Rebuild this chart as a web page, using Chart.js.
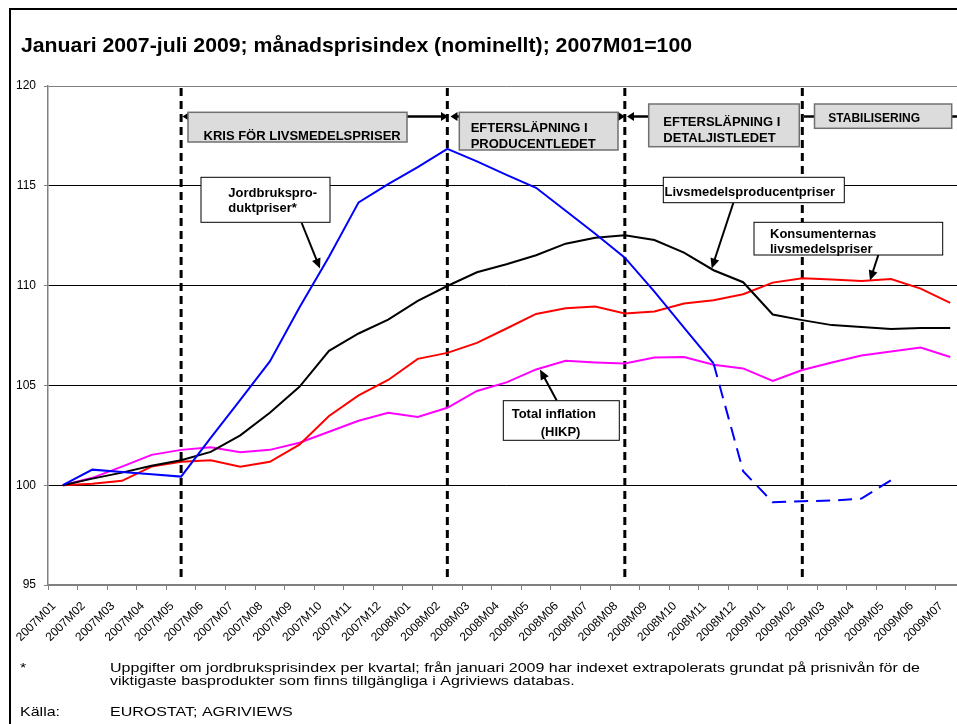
<!DOCTYPE html>
<html>
<head>
<meta charset="utf-8">
<script src="https://cdn.jsdelivr.net/npm/chart.js@4.4.1/dist/chart.umd.min.js"></script>
<style>
  html, body { margin: 0; padding: 0; background: #fff; overflow: hidden; }
  #wrap { position: absolute; left: 0; top: 0; width: 990px; height: 724px; }
</style>
</head>
<body>
<div id="wrap"><canvas id="prisChart" width="990" height="724"></canvas></div>
<script>
// Månader (kategorier)
const months = [
  '2007M01', '2007M02', '2007M03', '2007M04', '2007M05', '2007M06', '2007M07', '2007M08',
  '2007M09', '2007M10', '2007M11', '2007M12', '2008M01', '2008M02', '2008M03', '2008M04',
  '2008M05', '2008M06', '2008M07', '2008M08', '2008M09', '2008M10', '2008M11', '2008M12',
  '2009M01', '2009M02', '2009M03', '2009M04', '2009M05', '2009M06', '2009M07'
];

// Jordbruksproduktpriser* (extrapolerat fr.o.m. 2008M11)
const jordbruk = [
  100.0, 100.78, 100.66, 100.55, 100.43, 102.37, 104.28, 106.2,
  108.9, 111.45, 114.17, 115.08, 115.94, 116.85, 116.22, 115.55,
  114.9, 113.75, 112.6, 111.4, 109.7, 107.9, 106.1, 100.7,
  99.15, 99.2, 99.23, 99.33, 100.25, null, null
];

// Livsmedelsproducentpriser
const producent = [
  100.0, 100.33, 100.63, 100.97, 101.25, 101.67, 102.5, 103.63,
  104.93, 106.73, 107.6, 108.3, 109.23, 109.98, 110.67, 111.07,
  111.52, 112.1, 112.4, 112.52, 112.28, 111.65, 110.77, 110.17,
  108.55, 108.27, 108.02, 107.93, 107.83, 107.87, 107.87
];

// Konsumenternas livsmedelspriser
const konsument = [
  100.0, 100.07, 100.22, 100.93, 101.18, 101.25, 100.92, 101.17,
  102.03, 103.47, 104.5, 105.27, 106.33, 106.63, 107.13, 107.85,
  108.58, 108.87, 108.95, 108.6, 108.7, 109.1, 109.27, 109.57,
  110.15, 110.37, 110.3, 110.23, 110.33, 109.85, 109.13
];

// Total inflation (HIKP)
const hikp = [
  100.0, 100.37, 100.93, 101.52, 101.77, 101.9, 101.65, 101.77,
  102.13, 102.68, 103.23, 103.63, 103.42, 103.88, 104.72, 105.15,
  105.8, 106.23, 106.15, 106.1, 106.4, 106.42, 106.03, 105.85,
  105.22, 105.77, 106.15, 106.5, 106.7, 106.9, 106.42
];

const yTicks = [95, 100, 105, 110, 115, 120];
const phaseMonths = ['2007M05', '2008M02', '2008M08', '2009M02'];
const extrapolStart = '2008M11';

const FONT = "'Liberation Sans', Arial, sans-serif";
const extrapolIdx = months.indexOf(extrapolStart);

// text med horisontell skalning
function stretchText(ctx, str, x, y, sx) {
  ctx.save();
  ctx.translate(x, y);
  ctx.scale(sx, 1);
  ctx.fillText(str, 0, 0);
  ctx.restore();
}

function arrowHead(ctx, x1, y1, x2, y2, len, half) {
  const a = Math.atan2(y2 - y1, x2 - x1);
  ctx.beginPath();
  ctx.moveTo(x2, y2);
  ctx.lineTo(x2 - len * Math.cos(a) + half * Math.sin(a), y2 - len * Math.sin(a) - half * Math.cos(a));
  ctx.lineTo(x2 - len * Math.cos(a) - half * Math.sin(a), y2 - len * Math.sin(a) + half * Math.cos(a));
  ctx.closePath();
  ctx.fill();
}

function line(ctx, x1, y1, x2, y2) {
  ctx.beginPath();
  ctx.moveTo(x1, y1);
  ctx.lineTo(x2, y2);
  ctx.stroke();
}

function grayBox(ctx, x, y, w, h) {
  ctx.fillStyle = '#dcdcdc';
  ctx.fillRect(x, y, w, h);
  ctx.strokeStyle = '#707070';
  ctx.lineWidth = 1.5;
  ctx.strokeRect(x, y, w, h);
}

function whiteBox(ctx, x, y, w, h) {
  ctx.fillStyle = '#ffffff';
  ctx.fillRect(x, y, w, h);
  ctx.strokeStyle = '#000000';
  ctx.lineWidth = 1;
  ctx.strokeRect(x, y, w, h);
}

function callout(ctx, x1, y1, x2, y2) {
  ctx.strokeStyle = '#000';
  ctx.fillStyle = '#000';
  ctx.lineWidth = 2;
  const a = Math.atan2(y2 - y1, x2 - x1);
  line(ctx, x1, y1, x2 - 6 * Math.cos(a), y2 - 6 * Math.sin(a));
  arrowHead(ctx, x1, y1, x2, y2, 10, 4.5);
}

// Fasgränser (streckade lodräta linjer), under kurvorna
const phasePlugin = {
  id: 'phaseLines',
  beforeDatasetsDraw(chart) {
    const ctx = chart.ctx;
    const xs = chart.scales.x;
    const area = chart.chartArea;
    ctx.save();
    ctx.strokeStyle = '#000';
    ctx.lineWidth = 3;
    ctx.setLineDash([8, 5]);
    phaseMonths.forEach(m => {
      const x = xs.getPixelForValue(months.indexOf(m));
      line(ctx, x, area.top + 2, x, area.bottom - 3);
    });
    ctx.restore();
  }
};

// Rutor, pilar, rubrik och fotnot
const decorPlugin = {
  id: 'decor',
  afterDraw(chart) {
    const ctx = chart.ctx;
    ctx.save();

    // ram
    ctx.strokeStyle = '#000';
    ctx.lineWidth = 2;
    ctx.strokeRect(10, 9, 1000, 800);

    // rubrik
    ctx.fillStyle = '#000';
    ctx.textBaseline = 'alphabetic';
    ctx.font = 'bold 21px ' + FONT;
    const title = 'Januari 2007-juli 2009; månadsprisindex (nominellt); 2007M01=100';
    stretchText(ctx, title, 21, 51.5, (692 - 21) / ctx.measureText(title).width);

    // faspilar
    ctx.strokeStyle = '#000';
    ctx.fillStyle = '#000';
    ctx.lineWidth = 2.5;
    const ay = 116.5;
    line(ctx, 186, ay, 190, ay);
    arrowHead(ctx, 190, ay, 182.5, ay, 7, 4.5);
    line(ctx, 405, ay, 442, ay);
    arrowHead(ctx, 405, ay, 448, ay, 7, 4.5);
    line(ctx, 455, ay, 461, ay);
    arrowHead(ctx, 461, ay, 450.5, ay, 7, 4.5);
    line(ctx, 616, ay, 620, ay);
    arrowHead(ctx, 616, ay, 625, ay, 7, 4.5);
    line(ctx, 633, ay, 650, ay);
    arrowHead(ctx, 650, ay, 627, ay, 7, 4.5);
    line(ctx, 804, ay, 815, ay);
    line(ctx, 951, ay, 990, ay);

    // grå fasrutor
    grayBox(ctx, 188, 112.3, 219, 29.7);
    grayBox(ctx, 459.3, 112.3, 158.7, 37.7);
    grayBox(ctx, 648.7, 104, 150.6, 42.7);
    grayBox(ctx, 814.5, 104, 137.2, 24.3);

    ctx.fillStyle = '#000';
    ctx.font = 'bold 13px ' + FONT;
    ctx.fillText('KRIS FÖR LIVSMEDELSPRISER', 203.5, 140);
    ctx.fillText('EFTERSLÄPNING I', 470.7, 131.5);
    ctx.fillText('PRODUCENTLEDET', 470.7, 147.5);
    ctx.fillText('EFTERSLÄPNING I', 663.3, 126);
    ctx.fillText('DETALJISTLEDET', 663.3, 142);
    ctx.font = 'bold 12px ' + FONT;
    ctx.fillText('STABILISERING', 828.3, 121.7);

    // etikettrutor med pilar
    callout(ctx, 301.7, 223, 320, 268.5);
    callout(ctx, 733.3, 203, 711.7, 268.5);
    callout(ctx, 878.3, 255, 870, 280.5);
    callout(ctx, 556.7, 400.5, 540, 369.5);

    whiteBox(ctx, 201, 177.3, 129, 45);
    whiteBox(ctx, 663.3, 177.3, 181, 25.4);
    whiteBox(ctx, 754, 222.3, 188.7, 32.7);
    whiteBox(ctx, 503.3, 400.7, 116, 39.6);

    ctx.fillStyle = '#000';
    ctx.font = 'bold 13px ' + FONT;
    ctx.fillText('Jordbrukspro-', 228.3, 196.7);
    ctx.fillText('duktpriser*', 228.3, 211.5);
    ctx.fillText('Livsmedelsproducentpriser', 664.5, 195.5);
    ctx.fillText('Konsumenternas', 770, 238.3);
    ctx.fillText('livsmedelspriser', 770, 253.3);
    ctx.fillText('Total inflation', 511.7, 417.7);
    ctx.fillText('(HIKP)', 540.7, 435.7);

    // fotnot och källa
    ctx.font = '13px ' + FONT;
    const fn1 = 'Uppgifter om jordbruksprisindex per kvartal; från januari 2009 har indexet extrapolerats grundat på prisnivån för de';
    const fn2 = 'viktigaste basprodukter som finns tillgängliga i Agriviews databas.';
    const sx = (920 - 110) / ctx.measureText(fn1).width;
    stretchText(ctx, '*', 20, 672, sx);
    stretchText(ctx, fn1, 110, 672, sx);
    stretchText(ctx, fn2, 110, 685, sx);
    stretchText(ctx, 'Källa:', 20, 716, sx);
    stretchText(ctx, 'EUROSTAT; AGRIVIEWS', 110, 716, sx);

    ctx.restore();
  }
};

const ctx = document.getElementById('prisChart').getContext('2d');
new Chart(ctx, {
  type: 'line',
  data: {
    labels: months,
    datasets: [
      {
        label: 'Jordbruksproduktpriser*',
        data: jordbruk,
        borderColor: '#0000ff',
        borderWidth: 2,
        segment: {
          borderDash: c => (c.p0DataIndex >= extrapolIdx ? [14, 8] : undefined)
        }
      },
      { label: 'Livsmedelsproducentpriser', data: producent, borderColor: '#000000', borderWidth: 2 },
      { label: 'Konsumenternas livsmedelspriser', data: konsument, borderColor: '#ff0000', borderWidth: 2 },
      { label: 'Total inflation (HIKP)', data: hikp, borderColor: '#ff00ff', borderWidth: 2 }
    ]
  },
  options: {
    responsive: false,
    animation: false,
    events: [],
    elements: {
      point: { radius: 0 },
      line: { tension: 0, fill: false }
    },
    layout: { padding: { left: 0, top: 86, right: 25, bottom: 0 } },
    plugins: {
      legend: { display: false },
      title: { display: false },
      tooltip: { enabled: false }
    },
    scales: {
      x: {
        type: 'category',
        offset: true,
        afterFit(scale) { scale.height = 139; },
        grid: {
          offset: true,
          drawOnChartArea: false,
          drawTicks: true,
          tickLength: 5,
          color: '#808080'
        },
        border: { color: '#808080', width: 1.5 },
        ticks: {
          autoSkip: false,
          maxRotation: 45,
          minRotation: 45,
          padding: 9,
          labelOffset: -9,
          color: '#000',
          font: { family: FONT, size: 12 }
        }
      },
      y: {
        min: 95,
        max: 120,
        afterFit(scale) { scale.width = 48; },
        afterBuildTicks(scale) { scale.ticks = yTicks.map(v => ({ value: v })); },
        grid: {
          color: c => (c.tick && (c.tick.value === 120 || c.tick.value === 95) ? '#808080' : '#000000'),
          lineWidth: 1,
          tickLength: 4,
          tickColor: '#808080'
        },
        border: { color: '#808080', width: 1.5 },
        ticks: {
          padding: 8,
          color: '#000',
          font: { family: FONT, size: 12 }
        }
      }
    }
  },
  plugins: [phasePlugin, decorPlugin]
});
</script>
</body>
</html>
